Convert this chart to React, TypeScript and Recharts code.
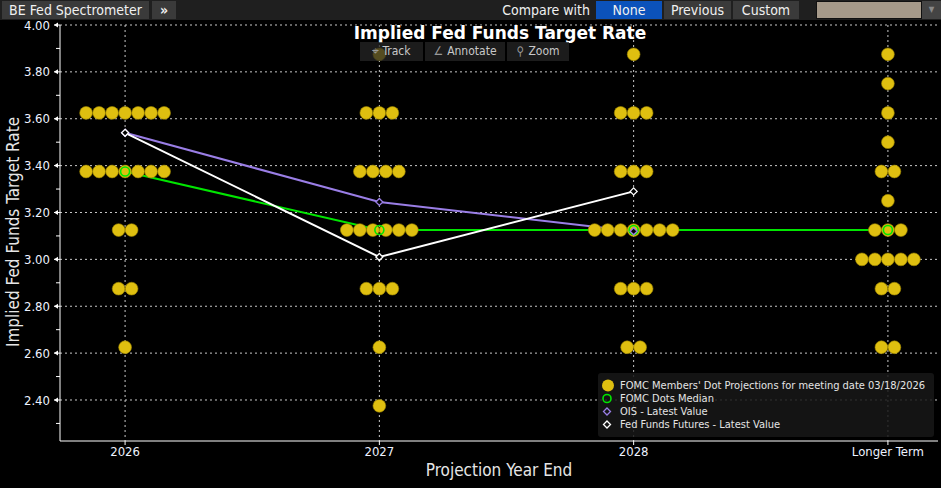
import React from 'react'
import {
  ScatterChart,
  Scatter,
  XAxis,
  YAxis,
  CartesianGrid
} from 'recharts'

const FONT = '"DejaVu Sans Condensed", "Liberation Sans Narrow", "DejaVu Sans", sans-serif'

const categories = ['2026', '2027', '2028', 'Longer Term']

// FOMC dot plot: [rate, number of participants]
const dots2026 = [[3.625, 7], [3.375, 7], [3.125, 2], [2.875, 2], [2.625, 1]]
const dots2027 = [[3.875, 1], [3.625, 3], [3.375, 4], [3.125, 6], [2.875, 3], [2.625, 1], [2.375, 1]]
const dots2028 = [[3.875, 1], [3.625, 3], [3.375, 3], [3.125, 7], [2.875, 3], [2.625, 2]]
const dotsLonger = [
  [3.875, 1], [3.75, 1], [3.625, 1], [3.5, 1], [3.375, 2], [3.25, 1],
  [3.125, 3], [3.0, 5], [2.875, 2], [2.625, 2]
]

const medianValues = [3.375, 3.125, 3.125, 3.125]
const oisValues = [3.54, 3.245, 3.12]
const futuresValues = [3.54, 3.01, 3.29]

const yTicks = [2.3, 2.4, 2.5, 2.6, 2.7, 2.8, 2.9, 3.0, 3.1, 3.2, 3.3, 3.4, 3.5, 3.6, 3.7, 3.8, 3.9, 4.0]
const yMajorTicks = [2.4, 2.6, 2.8, 3.0, 3.2, 3.4, 3.6, 3.8, 4.0]

const DOT_GAP = 13

const dotPoints = [dots2026, dots2027, dots2028, dotsLonger].flatMap((rows, idx) =>
  rows.flatMap(([rate, count]) =>
    Array.from({ length: count }, (_, i) => ({ x: idx, y: rate, slot: i - (count - 1) / 2 }))
  )
)

const toPoints = (vals: number[]) => vals.map((v, i) => ({ x: i, y: v }))
const medianPoints = toPoints(medianValues)
const oisPoints = toPoints(oisValues)
const futuresPoints = toPoints(futuresValues)

const GREEN = '#00e600'
const PURPLE = '#9a7ee6'
const GOLD = '#dfbf10'

const DotShape = (props: any) => {
  const { cx, cy, payload } = props
  return <circle cx={cx + payload.slot * DOT_GAP} cy={cy} r={6.4} fill={GOLD} stroke="#9c8400" strokeWidth={0.6} />
}

const Ring = (props: any) => (
  <circle cx={props.cx} cy={props.cy} r={4.5} fill="none" stroke={GREEN} strokeWidth={1.6} />
)

const diamond = (color: string) => (props: any) => {
  const { cx, cy } = props
  return (
    <path
      d={`M${cx},${cy - 3.5}L${cx + 3.5},${cy}L${cx},${cy + 3.5}L${cx - 3.5},${cy}Z`}
      fill="#000"
      stroke={color}
      strokeWidth={1.3}
    />
  )
}

const Empty = () => <g />

const YTick = (props: any) => {
  const { x, y, payload } = props
  const ax = x + 8
  const major = Math.round(payload.value * 10) % 2 === 0
  if (!major) {
    return <line x1={ax - 4} x2={ax} y1={y} y2={y} stroke="#fff" strokeWidth={1} />
  }
  return (
    <g>
      <line x1={ax - 6} x2={ax} y1={y} y2={y} stroke="#fff" strokeWidth={1} />
      <path d={`M${ax - 6},${y}L${ax - 2},${y - 2.5}L${ax - 2},${y + 2.5}Z`} fill="#fff" />
      <text x={ax - 10} y={y} dy="0.35em" textAnchor="end" fill="#eef2ff" fontSize={13} fontFamily={FONT}>
        {payload.value.toFixed(2)}
      </text>
    </g>
  )
}

const btn: React.CSSProperties = {
  position: 'absolute',
  top: 1,
  height: 18,
  lineHeight: '18px',
  background: '#3a3a3a',
  color: '#f0f0f0',
  fontSize: 14,
  textAlign: 'center',
  fontFamily: FONT
}

const tool: React.CSSProperties = {
  position: 'absolute',
  top: 0,
  height: 19,
  lineHeight: '19px',
  background: 'rgba(38,38,38,0.75)',
  color: '#c8c8c8',
  fontSize: 12,
  fontFamily: FONT,
  textAlign: 'center'
}

const legendRow: React.CSSProperties = {
  position: 'absolute',
  left: 0,
  height: 13,
  lineHeight: '13px',
  whiteSpace: 'nowrap'
}

export default function App() {
  return (
    <div style={{ position: 'absolute', left: 0, top: 0, width: 941, height: 488, background: '#000', overflow: 'hidden', fontFamily: FONT }}>
      <ScatterChart width={941} height={488} margin={{ top: 25, right: 3, bottom: 0, left: 0 }}>
        <CartesianGrid
          stroke="#c8c8c8"
          strokeDasharray="2 3"
          horizontalValues={yMajorTicks}
          verticalValues={[0, 1, 2, 3]}
        />
        <XAxis
          dataKey="x"
          type="number"
          domain={[-0.256, 3.197]}
          ticks={[0, 1, 2, 3]}
          tickFormatter={(v: number) => categories[v]}
          height={47}
          stroke="#fff"
          tickSize={4}
          tick={{ fill: '#eef2ff', fontSize: 13, fontFamily: FONT }}
          allowDataOverflow
        />
        <YAxis
          dataKey="y"
          type="number"
          domain={[2.225, 4.0]}
          ticks={yTicks}
          width={60}
          stroke="#fff"
          tickLine={false}
          tickSize={6}
          tickMargin={2}
          tick={<YTick />}
          interval={0}
          allowDataOverflow
        />
        <Scatter data={oisPoints} line={{ stroke: PURPLE, strokeWidth: 2 }} shape={<Empty />} isAnimationActive={false} />
        <Scatter data={medianPoints} line={{ stroke: GREEN, strokeWidth: 2 }} shape={<Empty />} isAnimationActive={false} />
        <Scatter data={futuresPoints} line={{ stroke: '#ffffff', strokeWidth: 2 }} shape={<Empty />} isAnimationActive={false} />
        <Scatter data={dotPoints} shape={<DotShape />} isAnimationActive={false} />
        <Scatter data={medianPoints} shape={<Ring />} isAnimationActive={false} />
        <Scatter data={oisPoints} shape={diamond(PURPLE)} isAnimationActive={false} />
        <Scatter data={futuresPoints} shape={diamond('#ffffff')} isAnimationActive={false} />
      </ScatterChart>

      {/* top bar */}
      <div style={{ position: 'absolute', left: 0, top: 0, width: 941, height: 20, background: '#1f1f1f' }}>
        <div style={{ ...btn, left: 2, width: 147 }}>BE Fed Spectrometer</div>
        <div style={{ ...btn, left: 152, width: 24, fontWeight: 'bold' }}>»</div>
        <div style={{ ...btn, left: 470, width: 120, background: 'transparent', textAlign: 'right' }}>Compare with</div>
        <div style={{ ...btn, left: 596, width: 66, background: '#0b52bb' }}>None</div>
        <div style={{ ...btn, left: 664, width: 67 }}>Previous</div>
        <div style={{ ...btn, left: 733, width: 66 }}>Custom</div>
        <div style={{ position: 'absolute', left: 816, top: 1, width: 106, height: 18, background: '#a69a8a', border: '1px solid #111', boxSizing: 'border-box' }} />
        <div style={{ position: 'absolute', left: 922, top: 1, width: 19, height: 18, background: '#444', color: '#888', fontSize: 8, lineHeight: '18px', textAlign: 'center' }}>▼</div>
      </div>

      {/* title + toolbar */}
      <div style={{ position: 'absolute', left: 300, top: 23, width: 400, textAlign: 'center', color: '#fff', fontWeight: 'bold', fontSize: 17, fontFamily: '"DejaVu Sans", sans-serif', textShadow: '0 0 2px #000, 0 0 2px #000' }}>
        Implied Fed Funds Target Rate
      </div>
      <div style={{ position: 'absolute', left: 360, top: 42, width: 209, height: 19 }}>
        <div style={{ ...tool, left: 0, width: 63 }}>
          <span style={{ color: '#999', marginRight: 3 }}>⌖</span>Track
        </div>
        <div style={{ ...tool, left: 65, width: 80 }}>
          <span style={{ color: '#999', marginRight: 4 }}>∠</span>Annotate
        </div>
        <div style={{ ...tool, left: 147, width: 62 }}>
          <span style={{ color: '#999', marginRight: 4 }}>⚲</span>Zoom
        </div>
      </div>

      {/* axis titles */}
      <div style={{ position: 'absolute', left: 13, top: 232, transform: 'translate(-50%, -50%) rotate(-90deg)', whiteSpace: 'nowrap', color: '#e6e6e6', fontSize: 17 }}>
        Implied Fed Funds Target Rate
      </div>
      <div style={{ position: 'absolute', left: 499, top: 470, transform: 'translate(-50%, -50%)', whiteSpace: 'nowrap', color: '#e6e6e6', fontSize: 17 }}>
        Projection Year End
      </div>

      {/* legend */}
      <div style={{ position: 'absolute', left: 598, top: 373, width: 336, height: 64, background: 'rgba(24,24,24,0.85)', borderRadius: 3, color: '#e4e4e4', fontSize: 11 }}>
        <div style={{ ...legendRow, top: 6 }}>
          <svg width={20} height={13} style={{ verticalAlign: 'top' }}><circle cx={10} cy={6.5} r={6} fill={GOLD} /></svg>
          <span style={{ marginLeft: 2 }}>FOMC Members' Dot Projections for meeting date 03/18/2026</span>
        </div>
        <div style={{ ...legendRow, top: 19 }}>
          <svg width={20} height={13} style={{ verticalAlign: 'top' }}><circle cx={9} cy={6.5} r={4} fill="none" stroke={GREEN} strokeWidth={1.6} /></svg>
          <span style={{ marginLeft: 2 }}>FOMC Dots Median</span>
        </div>
        <div style={{ ...legendRow, top: 32 }}>
          <svg width={20} height={13} style={{ verticalAlign: 'top' }}><path d="M9,3L12.5,6.5L9,10L5.5,6.5Z" fill="none" stroke={PURPLE} strokeWidth={1.3} /></svg>
          <span style={{ marginLeft: 2 }}>OIS - Latest Value</span>
        </div>
        <div style={{ ...legendRow, top: 45 }}>
          <svg width={20} height={13} style={{ verticalAlign: 'top' }}><path d="M9,3L12.5,6.5L9,10L5.5,6.5Z" fill="none" stroke="#fff" strokeWidth={1.3} /></svg>
          <span style={{ marginLeft: 2 }}>Fed Funds Futures - Latest Value</span>
        </div>
      </div>
    </div>
  )
}
